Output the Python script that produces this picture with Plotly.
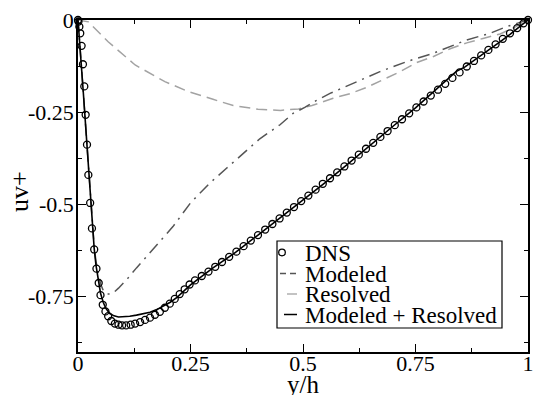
import plotly.graph_objects as go

# ---------------- data ----------------
dns_x = [0.0, 0.001, 0.003, 0.005, 0.008, 0.011, 0.014, 0.017, 0.020, 0.023, 0.027, 0.031,
         0.036, 0.041, 0.046, 0.050, 0.055, 0.061, 0.067, 0.074, 0.082, 0.090, 0.098, 0.107,
         0.117, 0.127, 0.138, 0.149, 0.160, 0.171, 0.182, 0.193, 0.204, 0.215, 0.226, 0.237,
         0.248, 0.260, 0.275, 0.290, 0.305, 0.320, 0.336, 0.352, 0.368, 0.384, 0.400, 0.416,
         0.432, 0.448, 0.464, 0.480, 0.496, 0.512, 0.528, 0.544, 0.560, 0.576, 0.592, 0.608,
         0.624, 0.640, 0.656, 0.672, 0.688, 0.704, 0.720, 0.736, 0.752, 0.768, 0.784, 0.800,
         0.816, 0.832, 0.848, 0.864, 0.880, 0.896, 0.912, 0.928, 0.944, 0.960, 0.976, 0.990, 1.0]
dns_y = [0.0, -0.004, -0.018, -0.036, -0.070, -0.120, -0.180, -0.257, -0.338, -0.420, -0.496, -0.565,
         -0.622, -0.674, -0.713, -0.746, -0.772, -0.790, -0.803, -0.816, -0.823, -0.826, -0.828, -0.828,
         -0.826, -0.823, -0.819, -0.813, -0.807, -0.799, -0.791, -0.780, -0.769, -0.756, -0.743, -0.730,
         -0.717, -0.706, -0.694, -0.682, -0.669, -0.656, -0.642, -0.628, -0.613, -0.598, -0.583, -0.568,
         -0.553, -0.538, -0.522, -0.507, -0.491, -0.476, -0.460, -0.444, -0.429, -0.413, -0.397, -0.381,
         -0.365, -0.349, -0.333, -0.317, -0.301, -0.285, -0.269, -0.253, -0.237, -0.221, -0.205, -0.189,
         -0.173, -0.157, -0.142, -0.126, -0.111, -0.096, -0.081, -0.066, -0.051, -0.036, -0.022, -0.009, 0.0]

total_x = [0.0, 0.004, 0.008, 0.012, 0.016, 0.020, 0.024, 0.028, 0.032, 0.036, 0.040, 0.045, 0.050,
           0.056, 0.062, 0.070, 0.080, 0.090, 0.100, 0.115, 0.130, 0.145, 0.160, 0.175, 0.190, 0.205,
           0.220, 0.235, 0.250, 0.300, 0.350, 0.400, 0.450, 0.500, 0.550, 0.600, 0.650, 0.700, 0.750,
           0.780, 0.800, 0.820, 0.840, 0.860, 0.880, 0.900, 0.920, 0.940, 0.960, 0.980, 1.0]
total_y = [0.0, -0.060, -0.130, -0.200, -0.270, -0.340, -0.420, -0.500, -0.570, -0.620, -0.665, -0.705, -0.740,
           -0.765, -0.782, -0.795, -0.802, -0.805, -0.805, -0.803, -0.800, -0.797, -0.792, -0.785, -0.776, -0.765,
           -0.752, -0.735, -0.718, -0.672, -0.630, -0.583, -0.536, -0.488, -0.440, -0.390, -0.338, -0.288, -0.238,
           -0.205, -0.183, -0.160, -0.140, -0.127, -0.110, -0.092, -0.075, -0.057, -0.039, -0.020, 0.0]

modeled_x = [0.0, 0.004, 0.008, 0.012, 0.016, 0.020, 0.024, 0.028, 0.032, 0.036, 0.040, 0.045, 0.050,
             0.056, 0.064, 0.072, 0.080, 0.090, 0.108, 0.130, 0.153, 0.180, 0.211, 0.250, 0.293, 0.330,
             0.360, 0.404, 0.449, 0.478, 0.504, 0.530, 0.560, 0.619, 0.671, 0.730, 0.790, 0.864, 0.916,
             0.952, 1.0]
modeled_y = [0.0, -0.060, -0.130, -0.200, -0.270, -0.340, -0.420, -0.500, -0.565, -0.615, -0.655, -0.690, -0.715,
             -0.733, -0.743, -0.743, -0.738, -0.727, -0.704, -0.672, -0.641, -0.602, -0.560, -0.496, -0.442, -0.402,
             -0.370, -0.322, -0.284, -0.253, -0.237, -0.218, -0.199, -0.167, -0.140, -0.113, -0.090, -0.054, -0.036,
             -0.018, 0.0]

resolved_x = [0.0, 0.023, 0.067, 0.127, 0.193, 0.245, 0.300, 0.345, 0.400, 0.450, 0.490, 0.520, 0.567,
              0.604, 0.641, 0.678, 0.716, 0.753, 0.790, 0.827, 0.864, 0.900, 0.938, 0.970, 1.0]
resolved_y = [0.0, -0.005, -0.059, -0.122, -0.167, -0.194, -0.215, -0.232, -0.242, -0.245, -0.241, -0.232, -0.212,
              -0.200, -0.183, -0.162, -0.140, -0.115, -0.099, -0.078, -0.062, -0.050, -0.038, -0.020, 0.0]

series_names = ["DNS", "Modeled", "Resolved", "Modeled + Resolved"]

x_tick_vals = [0, 0.25, 0.5, 0.75, 1]
x_tick_text = ["0", "0.25", "0.5", "0.75", "1"]
y_tick_vals = [0, -0.25, -0.5, -0.75]
y_tick_text = ["0", "-0.25", "-0.5", "-0.75"]

x_title = "y/h"
y_title = "uv+"

# ---------------- styles ----------------
FONT = "Liberation Serif, Times New Roman, DejaVu Serif, serif"
MOD_COLOR = "#555555"
RES_COLOR = "#a3a3a3"

fig = go.Figure()
fig.add_trace(go.Scatter(x=resolved_x, y=resolved_y, mode="lines", name=series_names[2],
                         line=dict(color=RES_COLOR, width=1.5, dash="11px,6px"), cliponaxis=False))
fig.add_trace(go.Scatter(x=modeled_x, y=modeled_y, mode="lines", name=series_names[1],
                         line=dict(color=MOD_COLOR, width=1.5, dash="12px,6px,2px,6px"), cliponaxis=False))
fig.add_trace(go.Scatter(x=total_x, y=total_y, mode="lines", name=series_names[3],
                         line=dict(color="black", width=1.6), cliponaxis=False))
fig.add_trace(go.Scatter(x=dns_x, y=dns_y, mode="markers", name=series_names[0],
                         marker=dict(symbol="circle-open", size=7, color="black", line=dict(width=1.3)),
                         cliponaxis=False))

W, H = 534, 397
L, R, T, B = 78, 528, 20, 352


def px(xp):
    return (xp - L) / (R - L)


def py(yp):
    return (B - yp) / (B - T)


axis_common = dict(showgrid=False, zeroline=False, showline=True, linecolor="black", linewidth=1.6,
                   mirror="ticks", ticks="inside", ticklen=8, tickwidth=1.3, tickcolor="black",
                   tickfont=dict(family=FONT, size=22, color="black"))

fig.update_xaxes(range=[0, 1], tickmode="array", tickvals=x_tick_vals, ticktext=x_tick_text,
                 ticklabelstandoff=-9,
                 minor=dict(dtick=0.125, tick0=0, ticks="inside", ticklen=4, tickwidth=1.2, tickcolor="black"),
                 **axis_common)
fig.update_yaxes(range=[-0.9, 0], tickmode="array", tickvals=y_tick_vals, ticktext=y_tick_text,
                 ticklabelstandoff=-2,
                 minor=dict(dtick=0.125, tick0=0, ticks="inside", ticklen=4, tickwidth=1.2, tickcolor="black"),
                 **axis_common)

# manual legend (box, symbols, labels)
shapes = [dict(type="rect", xref="paper", yref="paper", x0=px(277), x1=px(502), y0=py(328), y1=py(241),
               line=dict(color="black", width=1.2), fillcolor="white", layer="above")]
row_y = [252.5, 273.5, 294, 314.5]
shapes.append(dict(type="circle", xref="paper", yref="paper",
                   x0=px(282 - 3.3), x1=px(282 + 3.3), y0=py(row_y[0] + 3.3), y1=py(row_y[0] - 3.3),
                   line=dict(color="black", width=1.3), layer="above"))
shapes.append(dict(type="line", xref="paper", yref="paper", x0=px(280), x1=px(296), y0=py(row_y[1]),
                   y1=py(row_y[1]), line=dict(color=MOD_COLOR, width=1.3, dash="6px,4px"), layer="above"))
shapes.append(dict(type="line", xref="paper", yref="paper", x0=px(287), x1=px(297), y0=py(row_y[2]),
                   y1=py(row_y[2]), line=dict(color=RES_COLOR, width=1.3), layer="above"))
shapes.append(dict(type="line", xref="paper", yref="paper", x0=px(284), x1=px(297), y0=py(row_y[3]),
                   y1=py(row_y[3]), line=dict(color="black", width=1.5), layer="above"))

annotations = []
for name, ry in zip(series_names, row_y):
    annotations.append(dict(text=name, xref="paper", yref="paper", x=px(303), y=py(ry),
                            xanchor="left", yanchor="middle", showarrow=False, height=20,
                            font=dict(family=FONT, size=23, color="black")))

# axis titles
annotations.append(dict(text=x_title, xref="paper", yref="paper", x=px(303), y=py(384),
                        xanchor="center", yanchor="middle", showarrow=False, height=22,
                        font=dict(family=FONT, size=25, color="black")))
annotations.append(dict(text=y_title, xref="paper", yref="paper", x=px(19), y=py(191),
                        xanchor="center", yanchor="middle", showarrow=False, textangle=-90,
                        font=dict(family=FONT, size=26, color="black")))

fig.update_layout(width=W, height=H, margin=dict(l=L, r=W - R, t=T, b=H - B, autoexpand=False),
                  paper_bgcolor="white", plot_bgcolor="white", showlegend=False,
                  shapes=shapes, annotations=annotations,
                  font=dict(family=FONT, size=22, color="black"))

fig.write_html("out.html")
